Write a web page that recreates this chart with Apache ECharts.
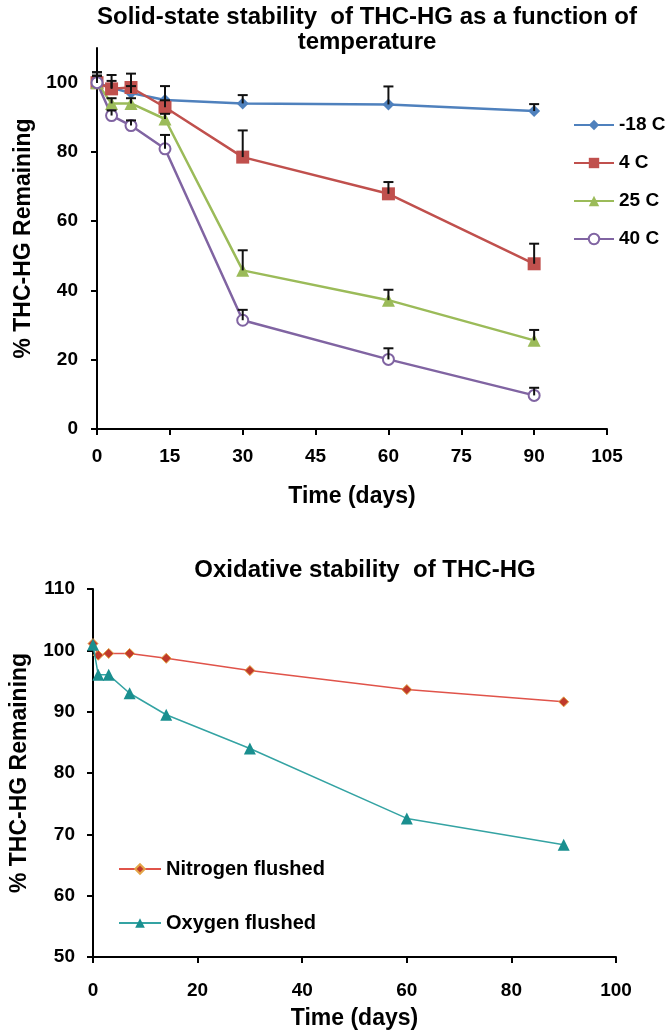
<!DOCTYPE html>
<html>
<head>
<meta charset="utf-8">
<script src="https://cdn.jsdelivr.net/npm/echarts@6/dist/echarts.min.js"></script>
<style>
html,body{margin:0;padding:0;background:#fff;}
#chart{width:667px;height:1036px;}
</style>
</head>
<body>
<div id="chart"></div>
<script>
// ---------- data: solid-state stability ----------
const days = [0, 3, 7, 14, 30, 60, 90];
const tempNames = ['-18 C', '4 C', '25 C', '40 C'];
const minus18C = [100, 98.5, 97, 95, 94, 93.7, 91.8];
const plus4C   = [100, 98.2, 98.6, 92.9, 78.5, 67.9, 47.7];
const plus25C  = [100, 94, 94, 89.5, 45.8, 37.2, 25.6];
const plus40C  = [100, 90.5, 87.6, 80.9, 31.4, 20.1, 9.7];
const err18 = [3, 2, 2, 4, 2.4, 5.2, 2];
const err4  = [3, 4, 4, 2, 7.7, 3.4, 5.8];
const err25 = [2, 1.5, 1.5, 1.5, 5.8, 3, 3];
const err40 = [2, 1.5, 1.5, 4, 3, 3.2, 2.2];

// ---------- data: oxidative stability ----------
const oxDays = [0, 1, 3, 7, 14, 30, 60, 90];
const oxNames = ['Nitrogen flushed', 'Oxygen flushed'];
const nitrogen = [101.1, 99.2, 99.5, 99.5, 98.7, 96.7, 93.6, 91.6];
const oxygen   = [100.9, 96.0, 96.0, 93.0, 89.5, 84.0, 72.6, 68.3];

// ---------- axis settings ----------
const topX = {min: 0, max: 105, interval: 15};
const topY = {min: 0, max: 110, interval: 20};
const botX = {min: 0, max: 100, interval: 20};
const botY = {min: 50, max: 110, interval: 10};

const FONT = '"Liberation Sans", Arial, Helvetica, sans-serif';
const pair = (xs, ys) => xs.map((x, i) => [x, ys[i]]);
const errData = (xs, ys, es) => xs.map((x, i) => [x, ys[i], es[i]]);

function errorSeries(xs, ys, es) {
  return {
    type: 'custom', xAxisIndex: 0, yAxisIndex: 0, z: 5, silent: true,
    encode: {x: 0, y: 1},
    data: errData(xs, ys, es),
    renderItem: function (params, api) {
      const x = api.value(0), y = api.value(1), e = api.value(2);
      const p0 = api.coord([x, y]);
      const p1 = api.coord([x, y + e]);
      const hw = 5;
      const st = {stroke: '#111', lineWidth: 2};
      return {type: 'group', children: [
        {type: 'line', shape: {x1: p0[0], y1: p0[1], x2: p1[0], y2: p1[1]}, style: st},
        {type: 'line', shape: {x1: p1[0] - hw, y1: p1[1], x2: p1[0] + hw, y2: p1[1]}, style: st}
      ]};
    }
  };
}

const axisLabelStyle = {color: '#000', fontFamily: FONT, fontWeight: 'bold', fontSize: 19};
const nameStyle = {color: '#000', fontFamily: FONT, fontWeight: 'bold', fontSize: 23};
const axisLine = {show: true, onZero: false, lineStyle: {color: '#000', width: 2}};
const axisTick = {show: true, length: 6, inside: false, lineStyle: {color: '#000', width: 2}};

const topColors = ['#4F81BD', '#C0504D', '#9BBB59', '#8064A2'];

const option = {
  backgroundColor: '#fff',
  animation: false,
  title: [
    {text: 'Solid-state stability  of THC-HG as a function of\ntemperature', left: 362, top: 0, textAlign: 'center',
     textStyle: {fontFamily: FONT, fontWeight: 'bold', fontSize: 24, lineHeight: 25, color: '#000'}},
    {text: 'Oxidative stability  of THC-HG', left: 360, top: 553, textAlign: 'center',
     textStyle: {fontFamily: FONT, fontWeight: 'bold', fontSize: 24, color: '#000'}}
  ],
  legend: [
    {data: tempNames, orient: 'vertical', left: 568, top: 110, itemWidth: 40, itemHeight: 13, itemGap: 18,
     textStyle: {fontFamily: FONT, fontWeight: 'bold', fontSize: 19, lineHeight: 20, color: '#000'}},
    {data: oxNames, orient: 'vertical', left: 113, top: 854, itemWidth: 42, itemHeight: 12, itemGap: 34,
     textStyle: {fontFamily: FONT, fontWeight: 'bold', fontSize: 20, lineHeight: 20, color: '#000'}}
  ],
  grid: [
    {left: 97, right: 60, top: 48, bottom: 607, containLabel: false},
    {left: 90, right: 51, top: 589, bottom: 79, containLabel: false}
  ],
  xAxis: [
    {type: 'value', gridIndex: 0, min: topX.min, max: topX.max, interval: topX.interval,
     name: 'Time (days)', nameLocation: 'middle', nameGap: 56, nameTextStyle: nameStyle,
     axisLine: axisLine, axisTick: axisTick, splitLine: {show: false},
     axisLabel: Object.assign({margin: 18}, axisLabelStyle)},
    {type: 'value', gridIndex: 1, min: botX.min, max: botX.max, interval: botX.interval,
     name: 'Time (days)', nameLocation: 'middle', nameGap: 50, nameTextStyle: nameStyle,
     axisLine: axisLine, axisTick: axisTick, splitLine: {show: false},
     axisLabel: Object.assign({margin: 24}, axisLabelStyle)}
  ],
  yAxis: [
    {type: 'value', gridIndex: 0, min: topY.min, max: topY.max, interval: topY.interval,
     name: '% THC-HG Remaining', nameLocation: 'middle', nameGap: 62, nameRotate: 90, nameTextStyle: nameStyle,
     axisLine: axisLine, axisTick: axisTick, splitLine: {show: false},
     axisLabel: Object.assign({margin: 19, showMaxLabel: false}, axisLabelStyle)},
    {type: 'value', gridIndex: 1, min: botY.min, max: botY.max, interval: botY.interval,
     name: '% THC-HG Remaining', nameLocation: 'middle', nameGap: 62, nameRotate: 90, nameTextStyle: nameStyle,
     axisLine: axisLine, axisTick: axisTick, splitLine: {show: false},
     axisLabel: Object.assign({margin: 18}, axisLabelStyle)}
  ],
  series: [
    {name: tempNames[0], type: 'line', xAxisIndex: 0, yAxisIndex: 0, data: pair(days, minus18C),
     symbol: 'diamond', symbolSize: 12, color: topColors[0], lineStyle: {width: 2.5, color: topColors[0]},
     itemStyle: {color: topColors[0]}, z: 2},
    {name: tempNames[1], type: 'line', xAxisIndex: 0, yAxisIndex: 0, data: pair(days, plus4C),
     symbol: 'rect', symbolSize: 13, color: topColors[1], lineStyle: {width: 2.5, color: topColors[1]},
     itemStyle: {color: topColors[1]}, z: 2},
    {name: tempNames[2], type: 'line', xAxisIndex: 0, yAxisIndex: 0, data: pair(days, plus25C),
     symbol: 'triangle', symbolSize: 13, color: topColors[2], lineStyle: {width: 2.5, color: topColors[2]},
     itemStyle: {color: topColors[2]}, z: 2},
    {name: tempNames[3], type: 'line', xAxisIndex: 0, yAxisIndex: 0, data: pair(days, plus40C),
     symbol: 'emptyCircle', symbolSize: 11, color: topColors[3], lineStyle: {width: 2.5, color: topColors[3]},
     itemStyle: {color: topColors[3], borderWidth: 1.5}, z: 2},
    errorSeries(days, minus18C, err18),
    errorSeries(days, plus4C, err4),
    errorSeries(days, plus25C, err25),
    errorSeries(days, plus40C, err40),
    {name: oxNames[0], type: 'line', xAxisIndex: 1, yAxisIndex: 1, data: pair(oxDays, nitrogen),
     symbol: 'diamond', symbolSize: 10, color: '#C0392B', lineStyle: {width: 1.5, color: '#E0534A'},
     itemStyle: {color: '#C0392B', borderColor: '#E3A548', borderWidth: 1}, z: 2},
    {name: oxNames[1], type: 'line', xAxisIndex: 1, yAxisIndex: 1, data: pair(oxDays, oxygen),
     symbol: 'triangle', symbolSize: 12, color: '#1A8F8F', lineStyle: {width: 1.5, color: '#34A3A3'},
     itemStyle: {color: '#1A8F8F'}, z: 3}
  ]
};

const chart = echarts.init(document.getElementById('chart'), null, {renderer: 'canvas'});
chart.setOption(option);
</script>
</body>
</html>
